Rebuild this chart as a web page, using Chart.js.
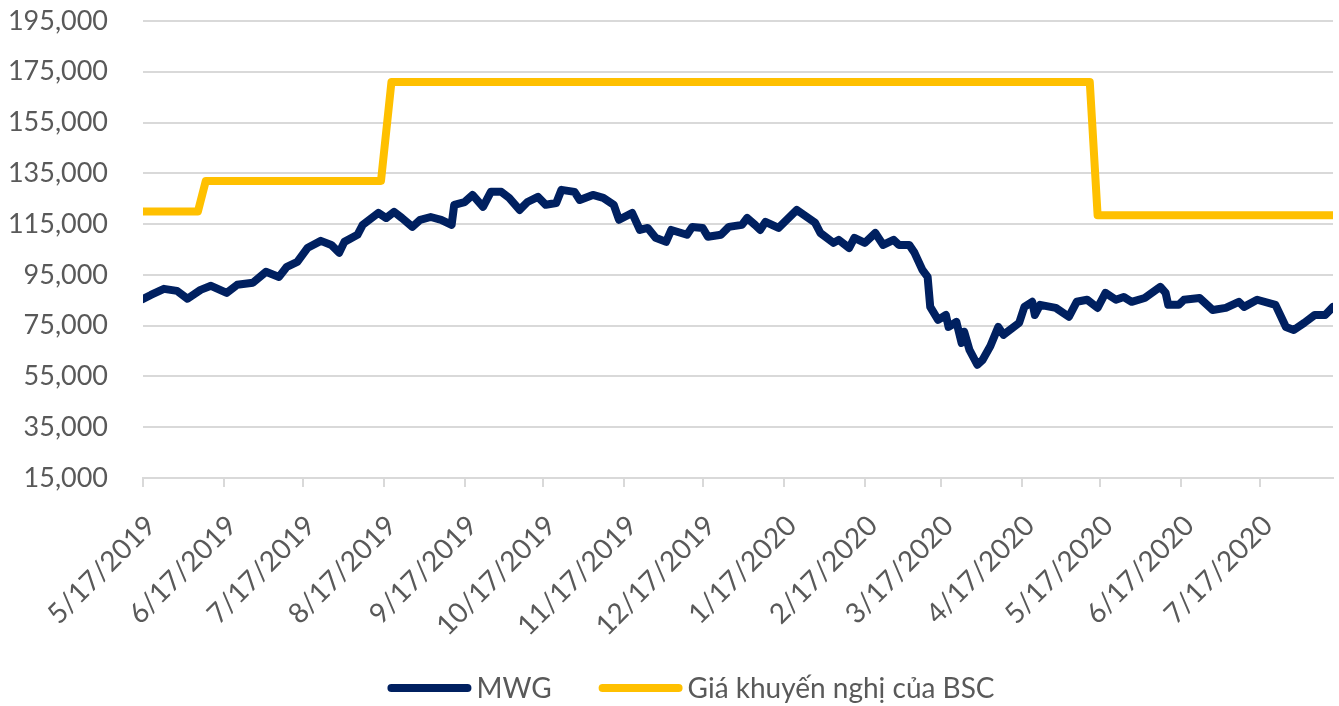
<!DOCTYPE html>
<html><head><meta charset="utf-8">
<script src="https://cdn.jsdelivr.net/npm/chart.js@4/dist/chart.umd.min.js"></script>
<style>html,body{margin:0;padding:0;background:#fff;}#wrap{width:1339px;height:706px;}</style>
</head><body><div id="wrap"><canvas id="c" width="1339" height="706"></canvas></div>
<script>
// ---- data ----
const startDate = [2019, 5, 17];          // day 0 of the date axis
const endDay = 455;                        // last trading day shown (8/14/2020)
const tickLabels = ["5/17/2019","6/17/2019","7/17/2019","8/17/2019","9/17/2019","10/17/2019","11/17/2019","12/17/2019","1/17/2020","2/17/2020","3/17/2020","4/17/2020","5/17/2020","6/17/2020","7/17/2020"];
const yTicks = [15000,35000,55000,75000,95000,115000,135000,155000,175000,195000];

// MWG closing price (days since 5/17/2019)
const mwgDays = [0,3,8,13,17,22,26,32,36,42,47,52,55,59,63,68,72,75,77,82,84,90,93,96,99,103,106,110,114,118,119,123,126,130,133,137,140,144,147,151,154,158,160,165,167,172,176,180,182,187,190,193,196,200,202,208,210,214,216,221,224,229,231,234,236,238,243,250,257,259,264,266,270,272,276,280,283,287,289,293,295,298,300,301,304,307,308,311,313,314,316,319,321,324,327,329,335,337,340,341,343,349,354,357,361,365,368,372,375,378,383,389,391,392,396,398,404,409,414,419,421,426,433,437,440,444,448,452,455];
const mwgPrice = [85500,87100,89500,88700,85600,89100,90700,87900,91100,91900,96200,94200,98200,100100,105700,108400,106800,103700,108000,110800,114700,119400,117400,119800,117400,113900,116700,117800,116700,114700,122600,123700,126500,121800,127700,127700,125300,120600,123700,125700,122600,123300,128500,127700,124500,126500,125300,122600,116700,119400,112700,113500,109600,108000,112700,110800,113900,113500,110000,110800,113900,114700,117400,114700,112700,115900,113500,120600,115500,111500,107600,108800,105600,109600,107600,111500,106800,108800,106800,106800,103700,97000,94200,82400,77300,79200,74500,76500,68200,72600,65500,59600,61500,67000,74500,71400,76100,82400,84400,79200,83200,82000,78500,84400,85200,82000,87900,85200,86300,84400,85900,90300,87900,83200,83200,85200,85900,81200,82000,84400,82400,85200,83200,74500,73300,76100,79200,79200,82400];

// BSC recommended price
const bscDays = [0,21,24,91,95,362,365,455];
const bscPrice = [120000,120000,132000,132000,171000,171000,118500,118500];

const seriesNames = ["MWG", "Giá khuyến nghị của BSC"];

// ---- helpers ----
function dayOffset(label){
  const [m,d,y] = label.split('/').map(Number);
  return Math.round((Date.UTC(y,m-1,d) - Date.UTC(startDate[0],startDate[1]-1,startDate[2]))/86400000);
}
const toXY = (xs, ys) => xs.map((x,i)=>({x:x, y:ys[i]}));

const FONT = "Lato, 'Open Sans', sans-serif";
const TXT = '#595959';
const GRID = '#d9d9d9';

// legend drawn below the axis labels, Excel style (line sample + text)
const excelLegend = {
  id:'excelLegend',
  afterDraw(chart){
    const ctx = chart.ctx;
    ctx.save();
    ctx.font = '28px ' + FONT;
    const lineLen = 84, gap = 5, itemGap = 47, cy = 688, cx = 691;
    const items = chart.data.datasets.map(ds=>({text:ds.label, color:ds.borderColor, w:ctx.measureText(ds.label).width}));
    const total = items.reduce((s,it)=>s+lineLen+gap+it.w,0) + itemGap*(items.length-1);
    let x = cx - total/2;
    items.forEach(it=>{
      ctx.strokeStyle = it.color; ctx.lineWidth = 8; ctx.lineCap = 'round';
      ctx.beginPath(); ctx.moveTo(x+4, cy); ctx.lineTo(x+lineLen-4, cy); ctx.stroke();
      ctx.fillStyle = TXT; ctx.textBaseline = 'middle'; ctx.textAlign = 'left';
      ctx.fillText(it.text, x+lineLen+gap, cy+1);
      x += lineLen + gap + it.w + itemGap;
    });
    ctx.restore();
  }
};

new Chart(document.getElementById('c'), {
  type: 'line',
  data: {
    datasets: [
      {label: seriesNames[0], data: toXY(mwgDays, mwgPrice), borderColor:'#002060', backgroundColor:'#002060',
       borderWidth:8, pointRadius:0, tension:0, borderJoinStyle:'round', borderCapStyle:'round', fill:false},
      {label: seriesNames[1], data: toXY(bscDays, bscPrice), borderColor:'#FFC000', backgroundColor:'#FFC000',
       borderWidth:8, pointRadius:0, tension:0, borderJoinStyle:'round', borderCapStyle:'round', fill:false}
    ]
  },
  plugins:[excelLegend],
  options: {
    responsive:false, animation:false, devicePixelRatio:1,
    layout:{autoPadding:false, padding:{left:0,right:6,top:21,bottom:43}},
    plugins:{ tooltip:{enabled:false}, legend:{display:false} },
    scales:{
      x:{
        type:'linear', min:0, max:endDay,
        afterBuildTicks(s){ s.ticks = tickLabels.map(l=>({value:dayOffset(l)})); },
        afterFit(s){ s.height = 185; s.paddingLeft = 0; s.paddingRight = 0; },
        ticks:{autoSkip:false, minRotation:45, maxRotation:45, padding:22, labelOffset:8,
          font:{family:FONT, size:28}, color:TXT,
          callback:(v,i)=>tickLabels[i]},
        grid:{drawOnChartArea:false, drawTicks:true, tickLength:9, color:GRID, lineWidth:2},
        border:{display:true, color:GRID, width:2}
      },
      y:{
        min:15000, max:195000,
        afterBuildTicks(s){ s.ticks = yTicks.map(v=>({value:v})); },
        afterFit(s){ s.width = 143; s.paddingTop = 0; s.paddingBottom = 0; },
        ticks:{padding:35, font:{family:FONT, size:27}, color:TXT,
          callback:v=>v.toLocaleString('en-US')},
        grid:{color:GRID, lineWidth:2, drawTicks:false},
        border:{display:false}
      }
    }
  }
});
</script></body></html>
